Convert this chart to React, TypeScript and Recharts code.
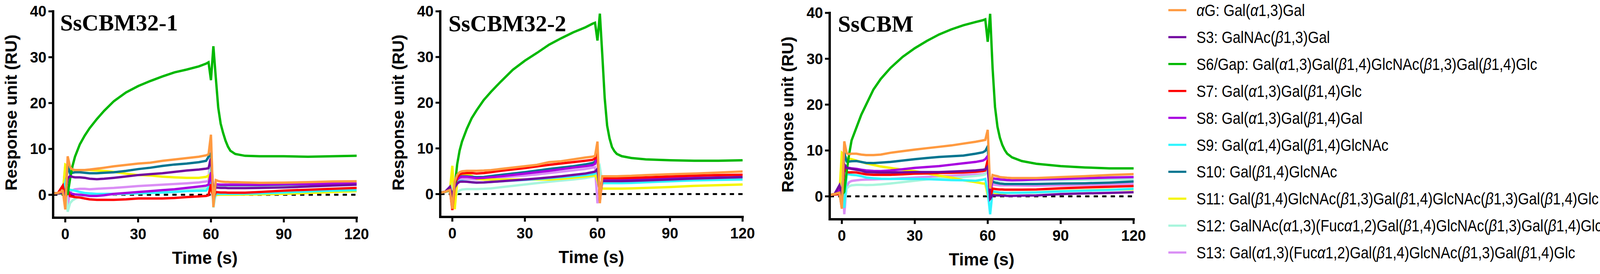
import { LineChart, Line, XAxis, YAxis, ReferenceLine } from "recharts";

// shared sampling times (s) for every sensorgram
const TIME = [
  -5, -3, -1, 0, 1, 2, 3, 4, 6, 8, 10, 13, 16, 20, 25, 30, 35, 40, 45, 50, 55, 58, 59, 60,
  61, 62, 63, 64, 65, 66, 67, 68, 70, 74, 80, 90, 100, 110, 120,
];

const X_TICKS = [0, 30, 60, 90, 120];
const Y_TICKS = [0, 10, 20, 30, 40];

const COLORS = [
  "#FF9A40", // aG
  "#720AA0", // S3
  "#00B800", // S6/Gap
  "#FF0000", // S7
  "#A800E0", // S8
  "#30F5FF", // S9
  "#007590", // S10
  "#F5F500", // S11
  "#A8F5DC", // S12
  "#DA8EF5", // S13
];

const LEGEND_LABELS = [
  "αG: Gal(α1,3)Gal",
  "S3: GalNAc(β1,3)Gal",
  "S6/Gap: Gal(α1,3)Gal(β1,4)GlcNAc(β1,3)Gal(β1,4)Glc",
  "S7: Gal(α1,3)Gal(β1,4)Glc",
  "S8: Gal(α1,3)Gal(β1,4)Gal",
  "S9: Gal(α1,4)Gal(β1,4)GlcNAc",
  "S10: Gal(β1,4)GlcNAc",
  "S11: Gal(β1,4)GlcNAc(β1,3)Gal(β1,4)GlcNAc(β1,3)Gal(β1,4)Glc",
  "S12: GalNAc(α1,3)(Fucα1,2)Gal(β1,4)GlcNAc(β1,3)Gal(β1,4)Glc",
  "S13: Gal(α1,3)(Fucα1,2)Gal(β1,4)GlcNAc(β1,3)Gal(β1,4)Glc",
];

// SsCBM32-1, one row per glycan in legend order
const CBM32_1: number[][] = [
  [0.3, 0.4, 0.8, -3.2, 8.4, 6.0, 5.5, 5.4, 5.4, 5.4, 5.5, 5.7, 5.9, 6.2, 6.5, 6.8, 7.0, 7.4, 7.7, 8.0, 8.3, 8.6, 8.8, 13.1, -2.7, 3.2, 3.0, 2.9, 2.85, 2.8, 2.8, 2.75, 2.75, 2.7, 2.6, 2.65, 2.75, 2.9, 2.95],
  [0.3, 0.3, 0.5, 0.0, 3.6, 4.1, 3.9, 3.8, 3.8, 3.7, 3.5, 3.4, 3.5, 3.7, 4.0, 4.3, 4.5, 4.7, 5.0, 5.3, 5.5, 5.7, 5.8, 7.9, 1.0, 1.6, 1.55, 1.5, 1.5, 1.5, 1.45, 1.45, 1.45, 1.45, 1.5, 1.6, 1.8, 2.0, 2.2],
  [0.3, 0.3, 0.3, 0.0, 0.2, 3.5, 6.3, 8.3, 11.0, 12.9, 14.5, 16.5, 18.3, 20.4, 22.3, 23.7, 24.8, 25.8, 26.7, 27.3, 28.0, 28.6, 28.9, 25.0, 32.4, 25.5, 19.0, 15.5, 13.5, 11.8, 10.5, 9.6, 8.9, 8.5, 8.4, 8.4, 8.3, 8.4, 8.5],
  [0.3, 0.4, 2.0, -0.8, 1.0, -0.3, -0.4, -0.5, -0.6, -0.8, -1.0, -1.1, -1.1, -1.1, -1.0, -0.8, -0.8, -0.8, -0.7, -0.5, -0.35, -0.25, -0.1, 2.3, -1.0, 0.6, 0.55, 0.5, 0.5, 0.5, 0.45, 0.45, 0.45, 0.45, 0.6, 0.9, 1.1, 1.3, 1.5],
  [0.3, 0.3, 0.5, 0.0, 0.8, 0.4, 0.2, 0.1, 0.0, -0.1, -0.25, -0.25, -0.1, 0.2, 0.4, 0.6, 0.8, 1.0, 1.2, 1.5, 1.8, 2.0, 2.2, 4.9, -1.0, 2.3, 2.25, 2.2, 2.2, 2.2, 2.2, 2.2, 2.2, 2.2, 2.2, 2.3, 2.35, 2.45, 2.5],
  [0.3, 0.3, 0.5, 2.7, 1.2, 1.1, 1.0, 0.9, 0.6, 0.4, 0.3, 0.2, 0.2, 0.2, 0.25, 0.3, 0.4, 0.5, 0.6, 0.8, 0.85, 0.9, 1.6, 3.7, -1.5, 0.2, 0.2, 0.2, 0.2, 0.2, 0.2, 0.2, 0.2, 0.25, 0.3, 0.5, 0.7, 0.9, 1.0],
  [0.3, 0.3, 0.5, 0.0, 6.3, 4.6, 4.8, 4.9, 4.9, 4.8, 4.7, 4.7, 4.8, 4.9, 5.2, 5.6, 5.9, 6.3, 6.6, 6.8, 7.1, 7.4, 8.3, 9.0, -1.0, 2.2, 2.15, 2.1, 2.1, 2.1, 2.1, 2.1, 2.1, 2.1, 2.1, 2.2, 2.3, 2.4, 2.5],
  [0.3, 0.3, 0.4, 6.6, 6.3, 5.5, 5.4, 5.4, 5.4, 5.4, 5.4, 5.3, 5.2, 5.0, 4.6, 4.3, 4.2, 3.95, 3.8, 3.7, 3.7, 3.9, 4.2, 1.0, -0.1, -0.1, 0.0, 0.0, 0.0, 0.0, 0.0, 0.0, 0.0, 0.05, 0.1, 0.2, 0.4, 0.6, 0.8],
  [0.3, 0.3, 0.4, 2.5, -3.7, -1.8, -1.2, -0.9, -0.3, -0.1, 0.0, 0.05, 0.1, 0.1, 0.2, 0.3, 0.45, 0.6, 0.8, 0.95, 1.2, 1.5, 1.7, 9.1, -2.8, 0.2, 0.2, 0.2, 0.2, 0.2, 0.2, 0.2, 0.25, 0.3, 0.35, 0.55, 0.75, 0.95, 1.1],
  [0.3, 0.3, 0.5, 6.3, -2.4, 0.6, 1.0, 1.2, 1.3, 1.3, 1.2, 1.3, 1.4, 1.5, 1.7, 1.9, 2.05, 2.2, 2.35, 2.5, 2.7, 2.9, 3.0, 12.0, -2.4, 2.2, 2.2, 2.2, 2.2, 2.2, 2.2, 2.2, 2.2, 2.2, 2.2, 2.25, 2.3, 2.35, 2.4],
];

// SsCBM32-2
const CBM32_2: number[][] = [
  [0.3, 0.5, 0.9, -3.2, 2.8, 4.2, 4.8, 5.0, 5.1, 5.1, 5.1, 5.15, 5.25, 5.5, 5.8, 6.1, 6.4, 7.0, 7.2, 7.6, 8.0, 8.2, 8.35, 11.5, -2.0, 3.9, 3.9, 3.9, 3.9, 3.9, 3.9, 3.9, 3.95, 4.0, 4.15, 4.35, 4.5, 4.7, 4.95],
  [0.3, 0.5, 1.6, -0.5, 1.5, 2.3, 2.7, 2.75, 2.7, 2.6, 2.5, 2.55, 2.65, 2.8, 3.0, 3.2, 3.4, 3.65, 3.9, 4.2, 4.5, 4.8, 4.9, 5.5, 0.0, 2.85, 2.85, 2.85, 2.85, 2.85, 2.85, 2.85, 2.85, 2.9, 3.0, 3.2, 3.4, 3.55, 3.7],
  [0.3, 0.5, 0.8, 0.0, 1.5, 6.5, 9.5, 11.5, 14.3, 16.6, 18.3, 20.6, 22.4, 24.6, 27.2, 29.2, 30.9, 32.7, 34.1, 35.4, 36.5, 37.3, 37.5, 33.6, 39.5, 30.5, 21.0, 15.0, 12.2, 10.3, 9.4, 8.8, 8.3, 7.9, 7.6, 7.4, 7.3, 7.3, 7.4],
  [0.3, 0.5, 0.9, -3.5, 2.0, 3.6, 4.3, 4.5, 4.6, 4.6, 4.5, 4.6, 4.8, 5.1, 5.4, 5.7, 6.05, 6.4, 6.7, 7.0, 7.3, 7.5, 7.8, 9.0, -1.5, 3.5, 3.5, 3.5, 3.5, 3.5, 3.5, 3.5, 3.5, 3.55, 3.65, 3.85, 4.05, 4.15, 4.25],
  [0.3, 0.5, 1.2, -1.5, 2.0, 3.2, 3.65, 3.8, 3.8, 3.65, 3.5, 3.55, 3.7, 3.9, 4.2, 4.5, 4.8, 5.1, 5.45, 5.8, 6.1, 6.35, 6.6, 9.0, -1.5, 3.1, 3.1, 3.1, 3.1, 3.1, 3.1, 3.1, 3.1, 3.15, 3.25, 3.4, 3.55, 3.65, 3.75],
  [0.3, 0.5, 1.0, -1.0, 1.5, 2.4, 2.9, 2.9, 2.75, 2.6, 2.5, 2.55, 2.65, 2.8, 2.95, 3.1, 3.3, 3.5, 3.7, 3.9, 4.15, 4.35, 4.5, 5.5, 0.0, 2.4, 2.4, 2.4, 2.4, 2.4, 2.4, 2.4, 2.4, 2.45, 2.6, 2.8, 3.0, 3.1, 3.2],
  [0.3, 0.5, 1.5, -1.0, 2.0, 3.2, 3.8, 3.9, 3.9, 3.8, 3.7, 3.75, 3.95, 4.2, 4.5, 4.8, 5.15, 5.5, 5.8, 6.1, 6.5, 6.8, 7.1, 8.5, -1.0, 3.0, 3.0, 3.0, 3.0, 3.0, 3.0, 3.0, 3.0, 3.05, 3.15, 3.3, 3.45, 3.6, 3.7],
  [0.3, 0.5, 0.8, 6.2, -3.3, 3.0, 3.9, 4.2, 4.3, 4.0, 3.35, 3.2, 3.2, 3.2, 3.2, 3.2, 3.2, 3.2, 3.35, 3.6, 3.85, 4.05, 4.2, 3.0, 0.8, 1.2, 1.2, 1.2, 1.2, 1.2, 1.2, 1.2, 1.2, 1.25, 1.35, 1.55, 1.8, 1.95, 2.1],
  [0.3, 0.5, 0.8, 2.5, -1.0, 0.3, 0.8, 1.0, 1.1, 1.1, 1.1, 1.15, 1.25, 1.5, 1.8, 2.1, 2.4, 2.7, 2.95, 3.2, 3.5, 3.8, 3.9, 4.5, 5.9, 2.6, 2.6, 2.6, 2.6, 2.6, 2.6, 2.6, 2.6, 2.65, 2.75, 2.9, 3.05, 3.2, 3.3],
  [0.3, 0.5, 1.0, 4.5, -2.6, 2.5, 3.35, 3.4, 3.35, 3.3, 3.2, 3.3, 3.45, 3.65, 3.85, 4.05, 4.3, 4.6, 4.9, 5.2, 5.5, 5.8, 5.9, -2.0, 1.0, 2.8, 2.8, 2.8, 2.8, 2.8, 2.8, 2.8, 2.8, 2.85, 2.95, 3.1, 3.2, 3.3, 3.4],
];

// SsCBM
const CBM: number[][] = [
  [0.3, 0.5, 0.8, -2.7, 12.0, 9.4, 9.2, 9.3, 9.3, 9.1, 9.0, 9.0, 9.1, 9.5, 9.85, 10.2, 10.5, 10.8, 11.1, 11.5, 11.9, 12.2, 12.3, 14.5, 1.7, 4.65, 4.5, 4.4, 4.2, 4.15, 4.1, 4.05, 4.0, 4.0, 4.0, 4.2, 4.4, 4.65, 4.85],
  [0.3, 0.5, 2.4, 0.5, 7.0, 6.2, 6.1, 6.0, 5.8, 5.6, 5.3, 5.25, 5.2, 5.2, 5.25, 5.3, 5.3, 5.3, 5.4, 5.5, 5.65, 5.8, 5.9, 6.5, -0.5, 0.25, 0.2, 0.2, 0.2, 0.15, 0.15, 0.1, 0.1, 0.15, 0.2, 0.5, 0.65, 0.75, 0.9],
  [0.3, 0.5, 0.8, 0.3, 1.0, 5.5, 9.2, 12.2, 15.0, 17.8, 20.0, 23.3, 25.6, 28.0, 30.4, 32.3, 33.9, 35.3, 36.4, 37.3, 38.0, 38.4, 38.6, 33.7, 39.8, 28.0, 19.5, 15.2, 12.8, 11.2, 10.1, 9.3, 8.5, 7.7, 7.1, 6.6, 6.3, 6.1, 6.1],
  [0.3, 0.4, 0.5, -1.0, 6.2, 5.3, 5.2, 5.25, 5.2, 5.0, 4.8, 4.7, 4.7, 4.7, 4.8, 4.95, 5.0, 5.1, 5.15, 5.2, 5.35, 5.5, 5.65, 7.9, -0.7, 1.7, 1.6, 1.55, 1.5, 1.5, 1.45, 1.45, 1.45, 1.45, 1.5, 1.75, 1.95, 2.1, 2.25],
  [0.3, 0.4, 1.5, 0.0, 6.6, 6.3, 6.2, 6.1, 6.0, 5.8, 5.65, 5.55, 5.5, 5.65, 5.9, 6.2, 6.4, 6.6, 6.9, 7.2, 7.5, 7.8, 8.1, 8.8, 0.5, 3.95, 3.85, 3.8, 3.7, 3.65, 3.6, 3.55, 3.5, 3.55, 3.7, 3.8, 3.95, 4.1, 4.2],
  [0.3, 0.4, 0.6, 0.5, -2.5, 4.8, 4.8, 4.7, 4.6, 4.4, 4.1, 3.95, 3.85, 3.8, 3.8, 3.8, 3.75, 3.65, 3.55, 3.5, 3.4, 3.65, 3.8, 1.0, -3.9, 1.1, 1.0, 0.9, 0.8, 0.8, 0.75, 0.75, 0.75, 0.8, 0.85, 1.1, 1.25, 1.4, 1.65],
  [0.3, 0.4, 1.0, -2.5, 9.5, 7.6, 7.6, 7.65, 7.7, 7.5, 7.3, 7.25, 7.35, 7.5, 7.8, 8.1, 8.35, 8.6, 8.75, 8.9, 9.3, 9.6, 9.9, 10.9, 1.5, 3.2, 3.0, 2.9, 2.8, 2.75, 2.7, 2.7, 2.7, 2.7, 2.7, 2.8, 2.85, 3.0, 3.25],
  [0.3, 0.4, 0.6, 9.5, 9.0, 8.3, 8.2, 8.1, 7.8, 7.5, 7.2, 6.85, 6.5, 6.2, 5.8, 5.5, 5.0, 4.5, 4.1, 3.5, 3.1, 2.8, 2.8, 0.2, 0.0, 0.8, 0.75, 0.7, 0.65, 0.65, 0.65, 0.7, 0.8, 0.8, 0.85, 1.15, 1.3, 1.45, 1.5],
  [0.3, 0.4, 0.6, 5.0, -2.3, 1.7, 2.2, 2.4, 2.5, 2.5, 2.45, 2.5, 2.6, 2.8, 3.1, 3.4, 3.7, 3.95, 4.05, 4.2, 4.45, 4.65, 4.8, 6.8, 2.0, 3.5, 3.5, 3.45, 3.45, 3.45, 3.45, 3.45, 3.45, 3.45, 3.5, 3.55, 3.6, 3.7, 3.75],
  [0.3, 0.4, 0.6, 7.5, -3.9, 2.2, 3.1, 3.35, 3.5, 3.6, 3.65, 3.7, 3.75, 3.8, 3.95, 4.1, 4.25, 4.4, 4.5, 4.65, 4.75, 4.8, 4.95, 5.5, 1.0, 2.6, 2.5, 2.45, 2.4, 2.4, 2.4, 2.4, 2.4, 2.35, 2.3, 2.4, 2.5, 2.6, 2.75],
];

const SANS = '"Liberation Sans", Arial, Helvetica, sans-serif';
const SERIF = '"Liberation Serif", "Times New Roman", Times, serif';
const H = 701;
const Y_W = 135;
const PAD_R = 60;
const LINE_W = 6;

type Panel = {
  title: string;
  values: number[][];
  left: number;
  right: number;
  top: number;
  bottom: number;
  titleX: number;
  titleY: number;
  yTitleY: number;
};

const PANELS: Panel[] = [
  { title: "SsCBM32-1", values: CBM32_1, left: 135.5, right: 912.5, top: 29, bottom: 557, titleX: 154, titleY: 78, yTitleY: 288 },
  { title: "SsCBM32-2", values: CBM32_2, left: 1126.5, right: 1900.5, top: 29, bottom: 555, titleX: 1148, titleY: 80, yTitleY: 288 },
  { title: "SsCBM", values: CBM, left: 2123.5, right: 2901.5, top: 33, bottom: 561, titleX: 2145, titleY: 81, yTitleY: 293 },
];

const tickStyle = { fill: "#000", fontSize: 38, fontWeight: 700, fontFamily: SANS };
const axisStyle = { stroke: "#000", strokeWidth: 6, strokeLinecap: "square" as const };
const tickLineStyle = { stroke: "#000", strokeWidth: 5 };

// draw S13 first so that aG ends up on top
const DRAW_ORDER = [9, 8, 7, 6, 5, 4, 3, 2, 1, 0];

function SensorgramPanel({ p }: { p: Panel }) {
  const chartLeft = p.left - Y_W;
  const width = Y_W + (p.right - p.left) + PAD_R;
  const rows = TIME.map((t, i) => {
    const r: Record<string, number> = { t };
    p.values.forEach((v, k) => {
      r[`s${k}`] = v[i];
    });
    return r;
  });
  const xMid = (p.left + p.right) / 2 - chartLeft;
  const yTitleX = Y_W - 93;
  const yTitleY = p.yTitleY;

  return (
    <div style={{ position: "absolute", left: chartLeft, top: 0 }}>
      <LineChart
        width={width}
        height={H}
        data={rows}
        margin={{ top: p.top, right: PAD_R, bottom: 0, left: 0 }}
      >
        <XAxis
          dataKey="t"
          type="number"
          domain={[-5, 120]}
          ticks={X_TICKS}
          interval={0}
          allowDataOverflow
          height={H - p.bottom}
          tickSize={12}
          tickMargin={16}
          tick={tickStyle}
          axisLine={axisStyle}
          tickLine={tickLineStyle}
          label={() => (
            <text
              x={xMid}
              y={p.bottom + 118}
              textAnchor="middle"
              fontFamily={SANS}
              fontWeight={700}
              fontSize={44}
              fill="#000"
            >
              Time (s)
            </text>
          )}
        />
        <YAxis
          type="number"
          domain={[-5, 40]}
          ticks={Y_TICKS}
          interval={0}
          allowDataOverflow
          width={Y_W}
          tickSize={12}
          tickMargin={5}
          tick={tickStyle}
          axisLine={axisStyle}
          tickLine={tickLineStyle}
          label={() => (
            <text
              x={yTitleX}
              y={yTitleY}
              transform={`rotate(-90 ${yTitleX} ${yTitleY})`}
              textAnchor="middle"
              fontFamily={SANS}
              fontWeight={700}
              fontSize={43}
              fill="#000"
            >
              Response unit (RU)
            </text>
          )}
        />
        <ReferenceLine y={0} stroke="#000" strokeWidth={5} strokeDasharray="11 10.8" />
        {DRAW_ORDER.map((k) => (
          <Line
            key={k}
            dataKey={`s${k}`}
            type="linear"
            stroke={COLORS[k]}
            strokeWidth={LINE_W}
            dot={false}
            activeDot={false}
            isAnimationActive={false}
          />
        ))}
      </LineChart>
    </div>
  );
}

function renderLabel(label: string) {
  return label.split(/([αβ])/).map((part, i) =>
    part === "α" || part === "β" ? (
      <tspan key={i} fontStyle="italic">
        {part}
      </tspan>
    ) : (
      <tspan key={i}>{part}</tspan>
    )
  );
}

function Overlay() {
  const legendX = 2991;
  const textX = 3063;
  return (
    <svg
      width={4280}
      height={H}
      style={{ position: "absolute", left: 0, top: 0, pointerEvents: "none" }}
    >
      {PANELS.map((p) => (
        <text
          key={p.title}
          x={p.titleX}
          y={p.titleY}
          fontFamily={SERIF}
          fontWeight={700}
          fontSize={59}
          fill="#000"
        >
          {p.title}
        </text>
      ))}
      {LEGEND_LABELS.map((label, i) => {
        const cy = 26 + i * 68.9;
        return (
          <g key={label}>
            <line x1={legendX} x2={legendX + 46} y1={cy} y2={cy} stroke={COLORS[i]} strokeWidth={5.5} />
            <text
              transform={`translate(${textX} ${cy + 15}) scale(0.865 1)`}
              fontFamily={SANS}
              fontSize={42}
              fill="#000"
            >
              {renderLabel(label)}
            </text>
          </g>
        );
      })}
    </svg>
  );
}

export default function App() {
  return (
    <div
      style={{
        position: "absolute",
        left: 0,
        top: 0,
        width: 4280,
        height: H,
        background: "#fff",
        overflow: "hidden",
      }}
    >
      {PANELS.map((p) => (
        <SensorgramPanel key={p.title} p={p} />
      ))}
      <Overlay />
    </div>
  );
}
